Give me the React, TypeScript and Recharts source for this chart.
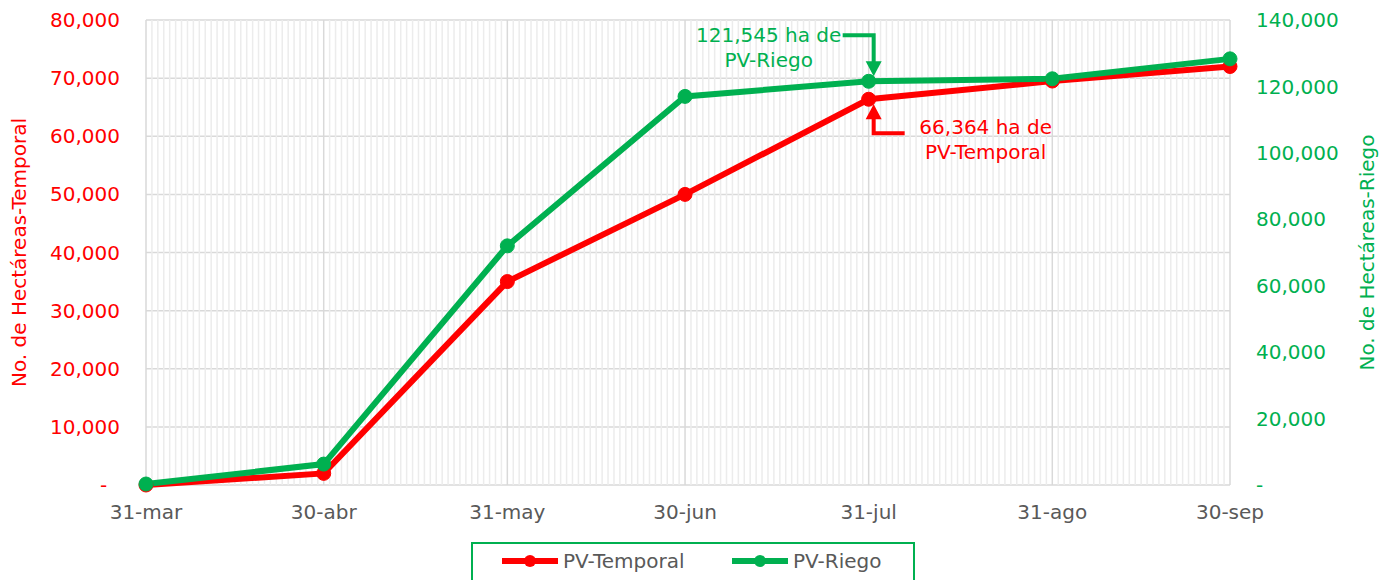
import React from "react";
import { LineChart, Line, XAxis, YAxis, CartesianGrid, LabelList, ReferenceLine } from "recharts";

const fechas = ["31-mar", "30-abr", "31-may", "30-jun", "31-jul", "31-ago", "30-sep"];
// días transcurridos desde el 31-mar
const dias = [0, 30, 61, 91, 122, 153, 183];
const pvTemporal = [0, 2000, 35000, 50000, 66364, 69500, 72000];
const pvRiego = [300, 6300, 72000, 117000, 121545, 122300, 128300];
const ticksTemporal = [0, 10000, 20000, 30000, 40000, 50000, 60000, 70000, 80000];
const ticksRiego = [0, 20000, 40000, 60000, 80000, 100000, 120000, 140000];
const series = [
  { key: "temporal", name: "PV-Temporal", color: "#ff0000" },
  { key: "riego", name: "PV-Riego", color: "#00b050" },
];
const IDX_NOTA = 4; // 31-jul

const ROJO = "#ff0000";
const VERDE = "#00b050";
const GRIS = "#595959";
const FUENTE = "DejaVu Sans";

const data = dias.map((dia, i) => ({
  dia,
  fecha: fechas[i],
  temporal: pvTemporal[i],
  riego: pvRiego[i],
}));
// días intermedios (rejilla menor diaria)
const diasMenores = Array.from({ length: dias[dias.length - 1] + 1 }, (_, i) => i).filter(
  (d) => !dias.includes(d)
);

const fmtNum = (v: number) => v.toLocaleString("en-US");
const fmtEje = (v: number) => (v === 0 ? "-" : fmtNum(v));
const fmtFecha = (v: number) => {
  const i = dias.indexOf(v);
  return i >= 0 ? fechas[i] : "";
};

const notaRiego = (props: any) => {
  if (props.index !== IDX_NOTA) return null;
  const cx = Number(props.x ?? props.viewBox?.x);
  const cy = Number(props.y ?? props.viewBox?.y);
  const ax = cx + 5;
  return (
    <g>
      <polyline
        points={`${cx - 26},${cy - 46} ${ax},${cy - 46} ${ax},${cy - 18}`}
        fill="none"
        stroke={VERDE}
        strokeWidth={4}
      />
      <polygon points={`${ax - 8},${cy - 20} ${ax + 8},${cy - 20} ${ax},${cy - 5}`} fill={VERDE} />
      <text x={cx - 100} y={cy - 39} textAnchor="middle" fill={VERDE} fontSize={20}>
        {fmtNum(Number(props.value))} ha de
      </text>
      <text x={cx - 100} y={cy - 14} textAnchor="middle" fill={VERDE} fontSize={20}>
        PV-Riego
      </text>
    </g>
  );
};

const notaTemporal = (props: any) => {
  if (props.index !== IDX_NOTA) return null;
  const cx = Number(props.x ?? props.viewBox?.x);
  const cy = Number(props.y ?? props.viewBox?.y);
  const ax = cx + 5;
  return (
    <g>
      <polyline
        points={`${cx + 36},${cy + 34} ${ax},${cy + 34} ${ax},${cy + 18}`}
        fill="none"
        stroke={ROJO}
        strokeWidth={4}
      />
      <polygon points={`${ax - 8},${cy + 20} ${ax + 8},${cy + 20} ${ax},${cy + 5}`} fill={ROJO} />
      <text x={cx + 117} y={cy + 35} textAnchor="middle" fill={ROJO} fontSize={20}>
        {fmtNum(Number(props.value))} ha de
      </text>
      <text x={cx + 117} y={cy + 60} textAnchor="middle" fill={ROJO} fontSize={20}>
        PV-Temporal
      </text>
    </g>
  );
};

const tituloEje = (texto: string, color: string, dx: number) => (props: any) => {
  const vb = props.viewBox || {};
  const x = vb.x + dx;
  const y = vb.y + vb.height / 2;
  return (
    <text
      x={x}
      y={y}
      transform={`rotate(-90, ${x}, ${y})`}
      textAnchor="middle"
      dominantBaseline="middle"
      fill={color}
      fontSize={20}
    >
      {texto}
    </text>
  );
};

export default function App() {
  return (
    <div
      style={{
        position: "absolute",
        left: 0,
        top: 0,
        width: 1381,
        height: 580,
        overflow: "hidden",
        background: "#fff",
        fontFamily: FUENTE,
      }}
    >
      <LineChart width={1381} height={580} data={data} margin={{ top: 20, right: 0, bottom: 0, left: 0 }}>
        <XAxis
          dataKey="dia"
          type="number"
          domain={[0, 183]}
          ticks={dias}
          interval={0}
          tickFormatter={fmtFecha}
          tick={{ fill: GRIS, fontSize: 20 }}
          axisLine={false}
          tickLine={false}
          tickSize={0}
          tickMargin={20}
          height={95}
        />
        <YAxis
          yAxisId="left"
          domain={[0, 80000]}
          ticks={ticksTemporal}
          tickFormatter={(v: number) => (v === 0 ? "-\u00a0\u00a0" : fmtNum(v))}
          tick={{ fill: ROJO, fontSize: 20 }}
          axisLine={false}
          tickLine={false}
          tickSize={0}
          tickMargin={26}
          width={146}
          label={{ content: tituloEje("No. de Hectáreas-Temporal", ROJO, 20) }}
        />
        <YAxis
          yAxisId="right"
          orientation="right"
          domain={[0, 140000]}
          ticks={ticksRiego}
          tickFormatter={fmtEje}
          tick={{ fill: VERDE, fontSize: 20, textAnchor: "start" }}
          axisLine={false}
          tickLine={false}
          tickSize={0}
          tickMargin={26}
          width={151}
          label={{ content: tituloEje("No. de Hectáreas-Riego", VERDE, 138) }}
        />
        <CartesianGrid yAxisId="left" stroke="#d9d9d9" strokeWidth={1.5} />
        {diasMenores.map((d) => (
          <ReferenceLine key={d} x={d} yAxisId="left" stroke="#ececec" strokeWidth={1.5} />
        ))}
        <Line
          yAxisId="left"
          dataKey="temporal"
          name="PV-Temporal"
          stroke={ROJO}
          strokeWidth={6}
          dot={{ r: 7, fill: ROJO, stroke: ROJO, strokeWidth: 1 }}
          isAnimationActive={false}
        >
          <LabelList dataKey="temporal" content={notaTemporal} />
        </Line>
        <Line
          yAxisId="right"
          dataKey="riego"
          name="PV-Riego"
          stroke={VERDE}
          strokeWidth={6}
          dot={{ r: 7, fill: VERDE, stroke: VERDE, strokeWidth: 1 }}
          isAnimationActive={false}
        >
          <LabelList dataKey="riego" content={notaRiego} />
        </Line>
      </LineChart>
      <div
        style={{
          position: "absolute",
          left: 471,
          top: 542,
          width: 444,
          height: 50,
          border: `2px solid ${VERDE}`,
          boxSizing: "border-box",
        }}
      >
        {series.map((s, i) => (
          <div
            key={s.key}
            style={{
              position: "absolute",
              left: i === 0 ? 29 : 259,
              top: 5,
              display: "flex",
              alignItems: "center",
              gap: 5,
              color: GRIS,
              fontSize: 20,
              lineHeight: "24px",
            }}
          >
            <svg width={56} height={16}>
              <line x1={1} y1={8} x2={55} y2={8} stroke={s.color} strokeWidth={6} strokeLinecap="round" />
              <circle cx={28} cy={8} r={6} fill={s.color} />
            </svg>
            <span>{s.name}</span>
          </div>
        ))}
      </div>
    </div>
  );
}
